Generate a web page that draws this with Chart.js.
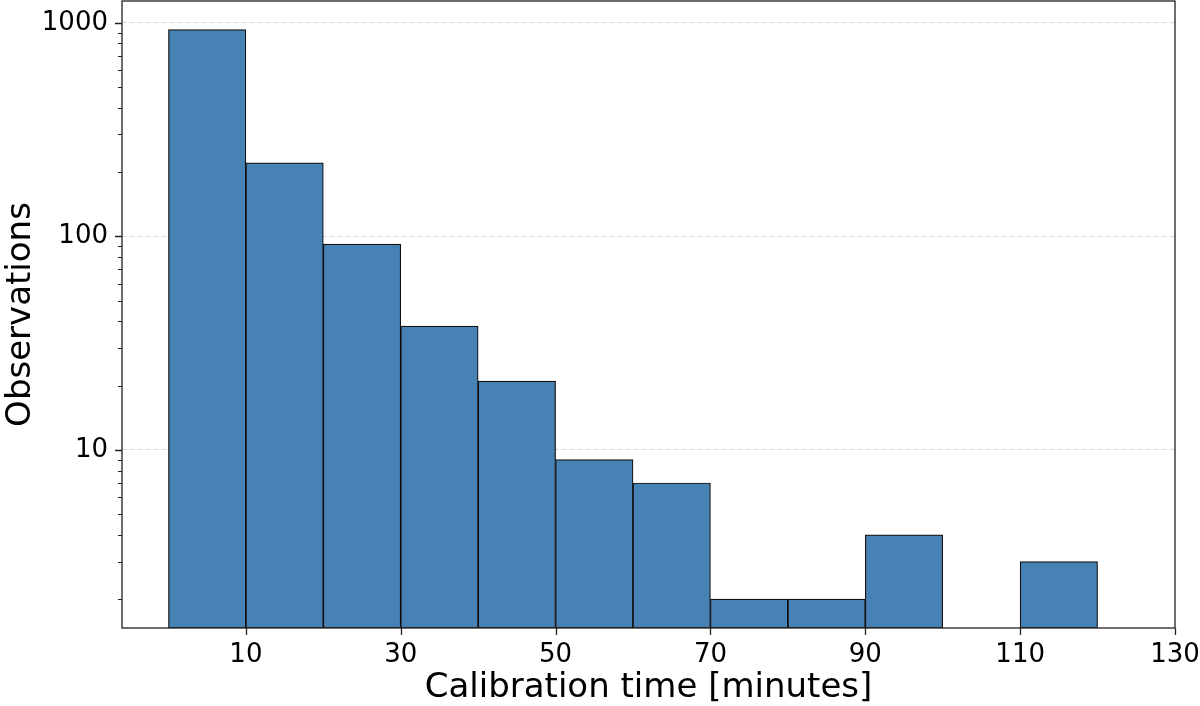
<!DOCTYPE html>
<html>
<head>
<meta charset="utf-8">
<script src="https://cdn.jsdelivr.net/npm/chart.js@4/dist/chart.umd.min.js"></script>
<style>
  html, body { margin: 0; padding: 0; background: #fff; }
  #wrap { width: 1200px; height: 706px; }
</style>
</head>
<body>
<div id="wrap"><canvas id="hist"></canvas></div>
<script>
// histogram bins (minutes) and counts
var binStarts = [0, 10, 20, 30, 40, 50, 60, 70, 80, 90, 100, 110];
var binWidth = 10;
var counts = [930, 221, 92, 38, 21, 9, 7, 2, 2, 4, 0, 3];
var xTicks = [10, 30, 50, 70, 90, 110, 130];
var yMajor = [10, 100, 1000];
var yMinor = [2, 3, 4, 5, 6, 7, 8, 9, 20, 30, 40, 50, 60, 70, 80, 90, 200, 300, 400, 500, 600, 700, 800, 900];

var FONT = "'DejaVu Sans', sans-serif";
var INK = '#222';

var points = binStarts.map(function (s, i) {
  return { x: s + binWidth / 2, y: counts[i] > 0 ? counts[i] : null };
});

// tick marks + frame, matplotlib style
var framePlugin = {
  id: 'frame',
  afterDraw: function (chart) {
    var ctx = chart.ctx;
    var a = chart.chartArea;
    var xs = chart.scales.x, ys = chart.scales.y;
    ctx.save();
    ctx.strokeStyle = INK;
    ctx.lineWidth = 1.3;
    ctx.beginPath();
    xTicks.forEach(function (v) {
      var px = Math.round(xs.getPixelForValue(v)) + 0.5;
      ctx.moveTo(px, a.bottom);
      ctx.lineTo(px, a.bottom + 7);
    });
    yMajor.forEach(function (v) {
      var py = Math.round(ys.getPixelForValue(v)) + 0.5;
      ctx.moveTo(a.left, py);
      ctx.lineTo(a.left - 7, py);
    });
    ctx.stroke();
    ctx.lineWidth = 1;
    ctx.beginPath();
    yMinor.forEach(function (v) {
      var py = Math.round(ys.getPixelForValue(v)) + 0.5;
      ctx.moveTo(a.left, py);
      ctx.lineTo(a.left - 4, py);
    });
    ctx.stroke();
    ctx.lineWidth = 1.3;
    ctx.strokeRect(a.left, a.top, a.right - a.left, a.bottom - a.top);
    ctx.restore();
  }
};

var config = {
  type: 'bar',
  data: {
    datasets: [
      {
        label: 'Observations',
        data: points,
        backgroundColor: '#4682b4',
        borderColor: '#111',
        borderWidth: 1.2,
        borderSkipped: false,
        barPercentage: 1,
        categoryPercentage: 1,
      },
    ],
  },
  options: {
    responsive: true,
    maintainAspectRatio: false,
    animation: false,
    layout: { padding: { top: 1, right: 25, left: 0, bottom: 0 } },
    plugins: {
      legend: { display: false },
      tooltip: { enabled: false },
    },
    scales: {
      x: {
        type: 'linear',
        offset: false,
        min: -6,
        max: 130,
        afterBuildTicks: function (scale) {
          scale.ticks = xTicks.map(function (v) { return { value: v }; });
        },
        afterFit: function (scale) {
          scale.height = 78;
          scale.paddingLeft = 0;
          scale.paddingRight = 0;
        },
        grid: { display: false, drawTicks: false, offset: false },
        border: { display: false },
        ticks: {
          padding: 12,
          color: '#000',
          maxRotation: 0,
          autoSkip: false,
          font: { family: FONT, size: 26 },
        },
        title: {
          display: true,
          text: 'Calibration time [minutes]',
          color: '#000',
          padding: 0,
          font: { family: FONT, size: 34, lineHeight: 1.05 },
        },
      },
      y: {
        type: 'logarithmic',
        min: 1.466,
        max: 1265,
        afterBuildTicks: function (scale) {
          var all = yMinor.concat(yMajor).sort(function (a, b) { return a - b; });
          scale.ticks = all.map(function (v) {
            return { value: v, major: yMajor.indexOf(v) >= 0 };
          });
        },
        afterFit: function (scale) {
          scale.width = 122;
          scale.paddingTop = 0;
          scale.paddingBottom = 0;
        },
        grid: {
          drawTicks: false,
          lineWidth: 1,
          color: function (c) {
            return c.tick && yMajor.indexOf(c.tick.value) >= 0 ? '#d9d9d9' : 'rgba(0,0,0,0)';
          },
        },
        border: { display: false, dash: [5, 3] },
        ticks: {
          padding: 14,
          color: '#000',
          autoSkip: false,
          font: { family: FONT, size: 26 },
          callback: function (v) {
            return yMajor.indexOf(v) >= 0 ? String(v) : '';
          },
        },
        title: {
          display: true,
          text: 'Observations',
          color: '#000',
          padding: 0,
          font: { family: FONT, size: 34, lineHeight: 1.24 },
        },
      },
    },
  },
  plugins: [framePlugin],
};

var ctx = document.getElementById('hist').getContext('2d');
window.histChart = new Chart(ctx, config);
</script>
</body>
</html>
